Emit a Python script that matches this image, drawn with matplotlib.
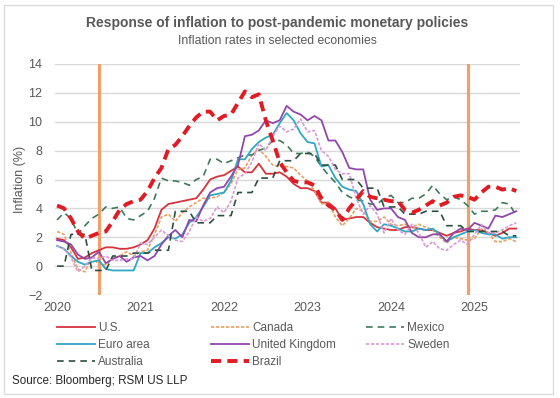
import matplotlib.pyplot as plt
from matplotlib.patches import Rectangle

plt.rcParams['font.family'] = ['Liberation Sans', 'DejaVu Sans']

# Monthly year-over-year inflation, Jan 2020 .. Jul 2025
months = [2020 + i / 12 for i in range(67)]

us = [1.9, 1.8, 1.3, 0.5, 0.6, 0.9, 1.1, 1.3, 1.3, 1.2, 1.2, 1.3,
      1.5, 1.8, 2.6, 3.9, 4.3, 4.4, 4.5, 4.6, 4.7, 5.3, 6.0, 6.2,
      6.3, 6.6, 6.9, 6.5, 6.5, 7.1, 6.4, 6.4, 6.5, 6.2, 5.7, 5.4,
      5.4, 5.2, 4.4, 4.4, 4.0, 3.2, 3.3, 3.4, 3.4, 3.0, 2.7, 2.6,
      2.5, 2.5, 2.7, 2.7, 2.6, 2.5, 2.5, 2.3, 2.1, 2.3, 2.4, 2.6,
      2.5, 2.5, 2.3, 2.1, 2.3, 2.6, 2.6]

canada = [2.4, 2.2, 0.9, -0.2, -0.4, 0.7, 0.1, 0.1, 0.5, 0.7, 1.0, 0.7,
          1.0, 1.1, 2.2, 3.4, 3.6, 3.1, 3.7, 4.1, 4.4, 4.7, 4.7, 4.8,
          5.1, 5.7, 6.7, 6.8, 7.7, 8.1, 7.6, 7.0, 6.9, 6.9, 6.8, 6.3,
          5.9, 5.2, 4.3, 4.4, 3.4, 2.8, 3.3, 4.0, 3.8, 3.1, 3.1, 3.4,
          2.9, 2.8, 2.9, 2.7, 2.9, 2.7, 2.5, 2.0, 1.6, 2.0, 1.9, 1.8,
          1.9, 2.6, 2.3, 1.7, 1.7, 1.9, 1.7]

mexico = [3.2, 3.7, 3.3, 2.2, 2.8, 3.3, 3.6, 4.1, 4.0, 4.1, 3.3, 3.2,
          3.5, 3.8, 4.7, 6.1, 5.9, 5.9, 5.8, 5.6, 6.0, 6.2, 7.4, 7.4,
          7.1, 7.3, 7.5, 7.7, 7.7, 8.0, 8.2, 8.7, 8.7, 8.4, 7.8, 7.8,
          7.9, 7.6, 6.9, 6.3, 5.8, 5.1, 4.8, 4.6, 4.5, 4.3, 4.3, 4.7,
          4.9, 4.4, 4.4, 4.7, 4.7, 5.0, 5.6, 5.0, 4.6, 4.8, 4.6, 4.2,
          3.6, 3.8, 3.8, 3.9, 4.4, 4.3, 3.5]

euro = [1.4, 1.2, 0.7, 0.3, 0.1, 0.3, 0.4, -0.2, -0.3, -0.3, -0.3, -0.3,
        0.9, 0.9, 1.3, 1.6, 2.0, 1.9, 2.2, 3.0, 3.4, 4.1, 4.9, 5.0,
        5.1, 5.9, 7.4, 7.4, 8.1, 8.6, 8.9, 9.1, 9.9, 10.6, 10.1, 9.2,
        8.6, 8.5, 6.9, 7.0, 6.1, 5.5, 5.3, 5.2, 4.3, 2.9, 2.4, 2.9,
        2.8, 2.6, 2.4, 2.4, 2.6, 2.5, 2.6, 2.2, 1.7, 2.0, 2.2, 2.4,
        2.5, 2.3, 2.2, 2.2, 1.9, 2.0, 2.0]

uk = [1.8, 1.7, 1.5, 0.8, 0.5, 0.6, 1.0, 0.2, 0.5, 0.7, 0.3, 0.6,
      0.7, 0.4, 0.7, 1.5, 2.1, 2.5, 2.0, 3.2, 3.1, 4.2, 5.1, 5.4,
      5.5, 6.2, 7.0, 9.0, 9.1, 9.4, 10.1, 9.9, 10.1, 11.1, 10.7, 10.5,
      10.1, 10.4, 10.1, 8.7, 8.7, 7.9, 6.8, 6.7, 6.7, 4.6, 3.9, 4.0,
      4.0, 3.4, 3.2, 2.3, 2.0, 2.0, 2.2, 2.2, 1.7, 2.3, 2.6, 2.5,
      3.0, 2.8, 2.6, 3.5, 3.4, 3.6, 3.8]

sweden = [1.4, 1.2, 0.6, -0.4, 0.0, 0.6, 0.5, 0.7, 0.4, 0.4, 0.5, 0.5,
          1.6, 1.5, 2.0, 2.5, 2.1, 1.8, 1.7, 2.4, 3.4, 3.1, 3.3, 4.1,
          3.7, 4.5, 6.1, 6.4, 7.2, 8.5, 8.0, 9.0, 9.7, 9.3, 9.5, 10.2,
          9.3, 9.4, 8.0, 7.6, 6.7, 6.4, 6.4, 4.7, 3.6, 4.2, 3.6, 2.3,
          3.3, 2.5, 2.2, 2.9, 2.3, 1.3, 1.7, 1.2, 1.1, 1.5, 1.8, 1.5,
          2.2, 2.9, 2.3, 2.3, 2.5, 2.8, 3.0]

australia = [0.0, 0.0, 2.2, 2.2, 2.2, -0.3, -0.3, -0.3, 0.7, 0.7, 0.7, 0.9,
             0.9, 0.9, 1.1, 1.1, 1.1, 3.8, 3.8, 3.8, 3.0, 3.0, 3.0, 3.5,
             3.5, 3.5, 5.1, 5.1, 5.1, 6.1, 6.1, 6.1, 7.3, 7.3, 7.3, 7.8,
             7.8, 7.8, 7.0, 7.0, 7.0, 6.0, 6.0, 6.0, 5.4, 5.4, 5.4, 4.1,
             4.1, 4.1, 3.6, 3.6, 3.6, 3.8, 3.8, 3.8, 2.8, 2.8, 2.8, 2.4,
             2.4, 2.4, 2.4, 2.4, 2.4, 2.1, 2.1]

brazil = [4.2, 4.0, 3.3, 2.4, 1.9, 2.1, 2.3, 2.4, 3.1, 3.9, 4.3, 4.5,
          4.6, 5.2, 6.1, 6.8, 8.1, 8.4, 9.0, 9.7, 10.3, 10.7, 10.7, 10.1,
          10.4, 10.5, 11.3, 12.1, 11.7, 11.9, 10.1, 8.7, 7.2, 6.5, 5.9, 5.8,
          5.8, 5.6, 4.7, 4.2, 3.9, 3.2, 4.0, 4.6, 5.2, 4.8, 4.7, 4.6,
          4.5, 4.5, 3.9, 3.7, 3.9, 4.2, 4.5, 4.2, 4.4, 4.8, 4.9, 4.8,
          4.6, 5.1, 5.5, 5.5, 5.3, 5.4, 5.2]

policy_marks = [2020.5, 2024.92]
year_ticks = [2020, 2021, 2022, 2023, 2024, 2025]
y_ticks = [-2, 0, 2, 4, 6, 8, 10, 12, 14]

grey = '#595959'

fig = plt.figure(figsize=(5.6, 3.98), dpi=100)
ax = fig.add_axes([55 / 560, 1 - 295 / 398, 465 / 560, 231 / 398])

for xm in policy_marks:
    ax.axvline(xm, color='#f0a06c', lw=2.3, zorder=1)

l_us, = ax.plot(months, us, color='#d6343c', lw=1.3, label='U.S.')
l_ca, = ax.plot(months, canada, color='#e9a064', lw=1.2, ls=(0, (2, 1)), label='Canada')
l_mx, = ax.plot(months, mexico, color='#3d7a5c', lw=1.2, ls=(0, (4, 3)), label='Mexico')
l_eu, = ax.plot(months, euro, color='#2fa8c6', lw=1.3, label='Euro area')
l_uk, = ax.plot(months, uk, color='#9147ac', lw=1.3, label='United Kingdom')
l_se, = ax.plot(months, sweden, color='#d99ad6', lw=1.2, ls=(0, (2, 1)), label='Sweden')
l_au, = ax.plot(months, australia, color='#2c4f40', lw=1.2, ls=(0, (4, 3)), label='Australia')
l_br, = ax.plot(months, brazil, color='#e11b24', lw=2.8, ls=(0, (2.6, 1.6)), label='Brazil')

ax.set_xlim(2019.975, 2025.545)
ax.set_ylim(-2, 14)
ax.set_xticks(year_ticks)
ax.set_xticklabels([str(y) for y in year_ticks])
ax.set_yticks(y_ticks)
ax.grid(axis='y', color='#d9d9d9', lw=1)
ax.set_axisbelow(True)
for s in ax.spines.values():
    s.set_visible(False)
ax.tick_params(axis='both', length=0, labelsize=9, labelcolor=grey)
ax.tick_params(axis='y', pad=9)
ax.tick_params(axis='x', pad=5)
ax.set_ylabel('Inflation (%)', fontsize=9, color=grey)
ax.yaxis.set_label_coords(-0.062, 0.5)

fig.text(0.495, 1 - 23 / 398, 'Response of inflation to post-pandemic monetary policies',
         ha='center', va='center', fontsize=10, fontweight='bold', color=grey)
fig.text(0.495, 1 - 41 / 398, 'Inflation rates in selected economies',
         ha='center', va='center', fontsize=8.8, color=grey)

# legend in three columns, row-wise order
cols = [[l_us, l_eu, l_au], [l_ca, l_uk, l_br], [l_mx, l_se]]
col_x = [51, 205, 360]
for handles, cx in zip(cols, col_x):
    leg = fig.legend(handles=handles, loc='upper left',
                     bbox_to_anchor=(cx / 560, 1 - 316 / 398),
                     frameon=False, fontsize=8.5, handlelength=3.2,
                     handletextpad=0.3, labelspacing=0.42, borderpad=0)
    for t in leg.get_texts():
        t.set_color(grey)

fig.text(12 / 560, 1 - 381 / 398, 'Source: Bloomberg; RSM US LLP',
         ha='left', va='center', fontsize=8.4, color='#262626')

fig.add_artist(Rectangle((4 / 560, 4 / 398), 549 / 560, 389 / 398,
                         transform=fig.transFigure, fill=False,
                         edgecolor='#dcdcdc', lw=1))

plt.savefig('out.png', dpi=100)
